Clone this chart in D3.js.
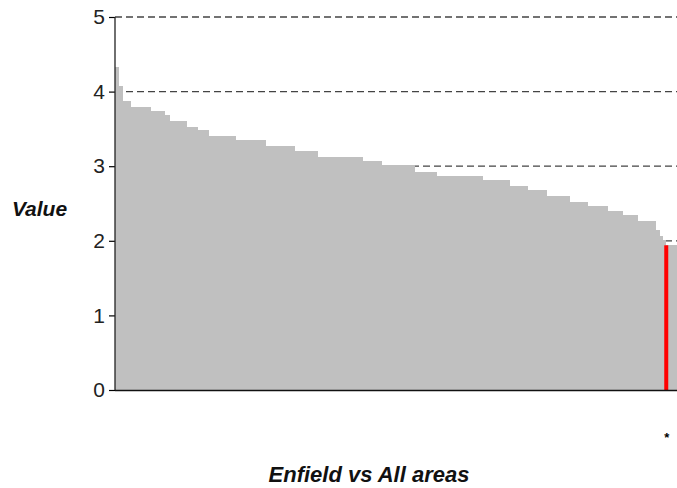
<!DOCTYPE html>
<html><head><meta charset="utf-8">
<script src="https://cdn.jsdelivr.net/npm/d3@7"></script>
<style>body{margin:0;background:#fff}svg{display:block}text{font-family:"Liberation Sans",Arial,sans-serif}</style>
</head><body><svg id="c" width="677" height="488"></svg>
<script>
// Step values (sorted descending) and number of areas at each value
const stepValues = [4.33,4.07,3.87,3.80,3.74,3.68,3.61,3.53,3.48,3.40,3.35,3.27,3.21,3.13,3.07,3.01,2.92,2.87,2.81,2.73,2.68,2.60,2.52,2.47,2.40,2.34,2.27,2.14,2.07,2.01,1.94,1.94];
const stepCounts = [2,3,6,15,10,4,13,8,8,20,22,22,17,33,14,25,16,34,20,14,14,17,13,15,11,11,14,3,2,2,1,8];
const highlightIndex = 30; // Enfield
const yTicks = [0,1,2,3,4,5];
const gridTicks = [2,3,4,5];
const yLabel = "Value";
const xLabel = "Enfield vs All areas";

(function(){
const svg = d3.select("#c");
const mL = 115, mT = 17, mB = 390, mR = 677;
const total = d3.sum(stepCounts);
const x = d3.scaleLinear().domain([0, total]).range([mL, mR]);
const y = d3.scaleLinear().domain([0, 5]).range([mB, mT]);

let cum = 0;
const steps = stepValues.map((v, i) => { const s = {start: cum, end: cum + stepCounts[i], v, i}; cum += stepCounts[i]; return s; });

// gridlines
svg.append("g").selectAll("line").data(gridTicks).join("line")
  .attr("x1", mL).attr("x2", mR).attr("y1", d => y(d)).attr("y2", d => y(d))
  .attr("stroke", "#444").attr("stroke-width", 1.3).attr("stroke-dasharray", "7,4");

// bars
svg.append("g").attr("shape-rendering", "crispEdges").selectAll("rect")
  .data(steps.filter(s => s.i !== highlightIndex)).join("rect")
  .attr("x", d => Math.round(x(d.start))).attr("width", d => Math.round(x(d.end)) - Math.round(x(d.start)) + 1)
  .attr("y", d => y(d.v)).attr("height", d => y(0) - y(d.v))
  .attr("fill", "#c0c0c0");
// highlighted bar
const h = steps[highlightIndex];
const hc = (x(h.start) + x(h.end)) / 2 + 0.7;
svg.append("rect").attr("x", hc - 2).attr("width", 4)
  .attr("y", y(h.v)).attr("height", y(0) - y(h.v)).attr("fill", "#ff0000");
svg.append("text").attr("x", hc + 0.5).attr("y", 442).attr("text-anchor", "middle")
  .attr("font-size", 13).attr("font-weight", "bold").attr("fill", "#000").text("*");

// axis
const ax = svg.append("g").attr("transform", `translate(${mL},0)`)
  .call(d3.axisLeft(y).tickValues(yTicks).tickFormat(d3.format("d")).tickSize(6).tickPadding(4));
ax.select(".domain").remove();
ax.selectAll(".tick line").attr("stroke", "#000").attr("stroke-width", 1.2);
ax.selectAll(".tick text").attr("font-size", 21).attr("fill", "#222").attr("font-family", "'Liberation Sans',Arial,sans-serif");
svg.append("line").attr("x1", mL).attr("x2", mL).attr("y1", mT).attr("y2", mB).attr("stroke", "#222").attr("stroke-width", 1.3);
svg.append("line").attr("x1", mL).attr("x2", mR).attr("y1", mB + 0.5).attr("y2", mB + 0.5).attr("stroke", "#111").attr("stroke-width", 1.3);

svg.append("text").attr("x", 39.5).attr("y", 216).attr("text-anchor", "middle")
  .attr("font-size", 21).attr("font-weight", "bold").attr("font-style", "italic").attr("fill", "#111").text(yLabel);
svg.append("text").attr("x", 369).attr("y", 482).attr("text-anchor", "middle")
  .attr("font-size", 22).attr("font-weight", "bold").attr("font-style", "italic").attr("fill", "#111").text(xLabel);
})();
</script></body></html>
